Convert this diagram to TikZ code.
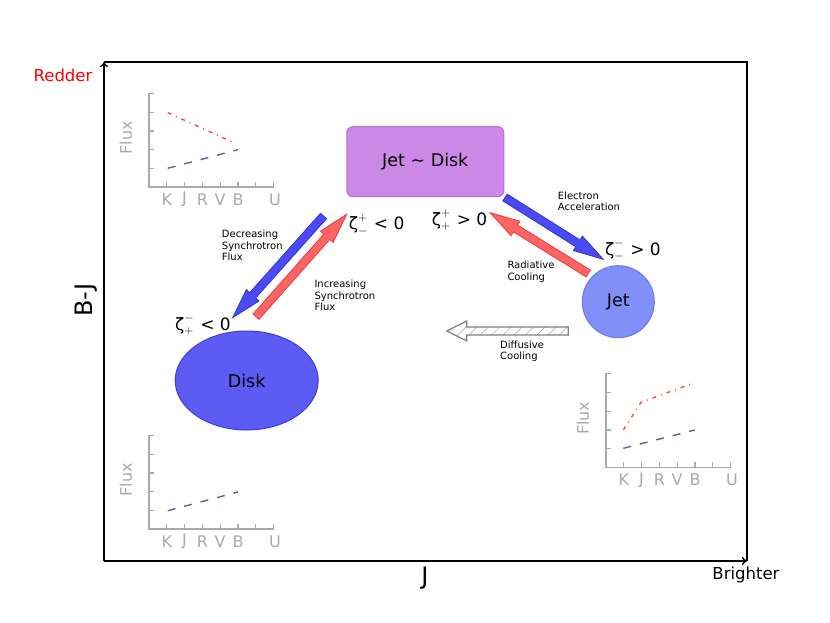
\documentclass[tikz,border=0pt]{standalone}
\usepackage{fontspec}
\setmainfont{DejaVu Sans}
\usetikzlibrary{calc,shapes.geometric,patterns.meta,arrows.meta}

\definecolor{diskblue}{RGB}{92,92,245}
\definecolor{diskedge}{RGB}{60,60,225}
\definecolor{jetblue}{RGB}{128,144,248}
\definecolor{jetedge}{RGB}{105,120,240}
\definecolor{boxviolet}{RGB}{204,136,230}
\definecolor{boxedge}{RGB}{180,110,212}
\definecolor{arrblue}{RGB}{75,75,245}
\definecolor{arrblueedge}{RGB}{50,50,215}
\definecolor{arrred}{RGB}{255,100,100}
\definecolor{arrrededge}{RGB}{230,60,60}
\definecolor{axisgray}{RGB}{170,170,170}
\definecolor{sedpurple}{RGB}{128,80,160}
\definecolor{sedred}{RGB}{255,70,70}

\tikzset{
  bigtext/.style={font=\fontsize{17.5}{20}\selectfont},
  smalltext/.style={font=\fontsize{10}{11.5}\selectfont, align=left, anchor=north west, inner sep=0pt},
  zetatext/.style={font=\fontsize{17}{20}\selectfont, anchor=west, inner sep=0pt},
  axislabel/.style={font=\fontsize{16}{19}\selectfont, text=axisgray, inner sep=0pt},
  axisline/.style={draw=axisgray, line width=1.3pt},
  diskline/.style={sedpurple, line width=1.4pt, dash pattern=on 8pt off 9pt},
  jetline/.style={sedred, line width=1.4pt, dash pattern=on 4pt off 5pt on 1pt off 5pt},
  bluearrow/.style={fill=arrblue, draw=arrblueedge, line width=0.8pt},
  redarrow/.style={fill=arrred, draw=arrrededge, line width=0.8pt},
}

% block arrow: tail, tip, style, head length, head half width
\newcommand{\blockarrow}[5]{%
  \coordinate (ba-h) at ($(#2)!#4!(#1)$);
  \filldraw[#3]
    ($(#1)!4pt!90:(#2)$) -- ($(ba-h)!4pt!-90:(#1)$) -- ($(ba-h)!#5!-90:(#1)$)
    -- (#2) -- ($(ba-h)!#5!90:(#1)$) -- ($(ba-h)!4pt!90:(#1)$)
    -- ($(#1)!4pt!-90:(#2)$) -- cycle;
}

% zeta with stacked indices
\newcommand{\zetaidx}[2]{$\mbox{ζ}^{#1}_{#2}$\hspace{6pt}}

% little SED panel: origin, name prefix, curves
\newcommand{\fluxpanel}[3]{%
  \begin{scope}[shift={#1}, yscale=-1]
    \draw[axisline] (0,94) -- (0,0) -- (124.6,0);
    \foreach \i in {1,...,5}
      \draw[axisline] (0,18.7*\i) -- +(5,0);
    \foreach \i in {1,...,7}
      \draw[axisline] (17.8*\i,0) -- +(0,5);
    \foreach \l [count=\i] in {K,J,R,V,B}
      \node[axislabel] (#2-\l) at (17.8*\i,-12.5) {\l};
    \node[axislabel] (#2-U) at (126,-12.5) {U};
    \node[axislabel, rotate=90] (#2-flux) at (-23,49) {Flux};
    #3
  \end{scope}}

\begin{document}
\begin{tikzpicture}[x=1pt, y=-1pt]
    \useasboundingbox[fill=white] (0,0) rectangle (830,623);

    % colour-magnitude frame
    \draw[line width=1.3pt] (104,62) -- (747,62) -- (747,561);
    \draw[line width=1.3pt, -{To[length=5pt,width=8pt]}] (104,561) -- (104,62);
    \draw[line width=1.3pt, -{To[length=5pt,width=8pt]}] (104,561) -- (747,561);
    \node[font=\fontsize{16.5}{19}\selectfont, text=red] (redder) at (63,75) {Redder};
    \node[font=\fontsize{16.5}{19}\selectfont] (brighter) at (746,575) {Brighter};
    \node[font=\fontsize{24}{28}\selectfont, rotate=90] (bj) at (86,300) {B-J};
    \node[font=\fontsize{24}{28}\selectfont] (jmag) at (425,578) {J};

    % SED panels
    \fluxpanel{(149,187)}{tl}{%
      \draw[diskline] (18.7,18.7) -- (89,37.3);
      \draw[jetline] (18.7,74.4) -- (84,44.7);}
    \fluxpanel{(149,529)}{bl}{%
      \draw[diskline] (18.7,18.3) -- (89,37);}
    \fluxpanel{(606,467.3)}{br}{%
      \draw[diskline] (17.3,19) -- (89,37.3);
      \draw[jetline] (17.3,37.3) -- (35,65) -- (84,83);}

    % states
    \node[bigtext, draw=boxedge, fill=boxviolet, line width=1pt, rounded corners=6pt,
          minimum width=157pt, minimum height=70pt, inner sep=0pt] (jetdisk) at (425.3,161.7) {Jet \char`\~{} Disk};
    \node[bigtext, ellipse, draw=diskedge, fill=diskblue, line width=1pt,
          minimum width=143pt, minimum height=99pt, inner sep=0pt] (disk) at (246.7,380.5) {Disk};
    \node[bigtext, circle, draw=jetedge, fill=jetblue, line width=1pt,
          minimum size=72pt, inner sep=0pt] (jet) at (618.3,301.7) {Jet};

    % transitions
    \coordinate (decr-s) at (323.5,216);
    \coordinate (decr-e) at (232.7,317.7);
    \coordinate (incr-s) at (256,316.7);
    \coordinate (incr-e) at (346.7,214.3);
    \coordinate (accel-s) at (505,197.5);
    \coordinate (accel-e) at (603.3,259.3);
    \coordinate (rad-s) at (588.3,273.5);
    \coordinate (rad-e) at (490,212.7);
    \coordinate (diff-s) at (568.3,331);
    \coordinate (diff-e) at (446.7,331);

    \blockarrow{decr-s}{decr-e}{bluearrow}{30pt}{8.5pt}
    \blockarrow{incr-s}{incr-e}{redarrow}{30pt}{8.5pt}
    \blockarrow{accel-s}{accel-e}{bluearrow}{30pt}{8.5pt}
    \blockarrow{rad-s}{rad-e}{redarrow}{30pt}{8.5pt}
    \blockarrow{diff-s}{diff-e}{draw=gray, line width=1.2pt, pattern={Lines[angle=45,distance=8pt,line width=0.5pt]}, pattern color=gray!70}{20pt}{10pt}

    % labels
    \node[smalltext] (decr-lbl) at (221.7,230) {Decreasing\\Synchrotron\\Flux};
    \node[smalltext] (incr-lbl) at (314.3,280) {Increasing\\Synchrotron\\Flux};
    \node[smalltext] (accel-lbl) at (557.7,191.5) {Electron\\Acceleration};
    \node[smalltext] (rad-lbl) at (507.3,261) {Radiative\\Cooling};
    \node[smalltext] (diff-lbl) at (500,340.5) {Diffusive\\Cooling};

    \node[zetatext] (z1) at (348.7,225) {\zetaidx{+}{-}< 0};
    \node[zetatext] (z2) at (175,325) {\zetaidx{-}{+}< 0};
    \node[zetatext] (z3) at (431.7,220) {\zetaidx{+}{+}> 0};
    \node[zetatext] (z4) at (605,250) {\zetaidx{-}{-}> 0};
\end{tikzpicture}
\end{document}
